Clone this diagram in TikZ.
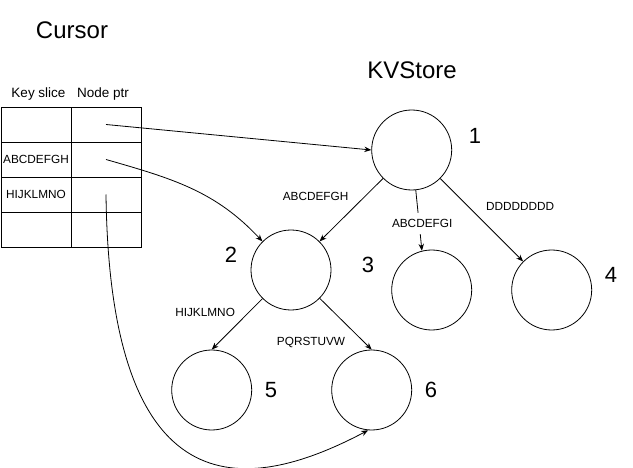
\documentclass[tikz,border=0pt]{standalone}
\usepackage{fontspec}
\setmainfont{Liberation Sans}
\usetikzlibrary{arrows.meta}

\begin{document}
\begin{tikzpicture}[x=1pt,y=-1pt,line width=0.8pt,
        >={Stealth[length=7pt,width=5.5pt]},
        store/.style={draw,circle,minimum size=80pt,inner sep=0pt},
        cell/.style={draw,minimum width=70pt,minimum height=35pt,inner sep=0pt,font=\fontsize{11.8}{14}\selectfont},
        num/.style={font=\fontsize{22}{26}\selectfont},
        slice/.style={font=\fontsize{11.8}{14}\selectfont}]
        \useasboundingbox (0,0) rectangle (633,468);

        % titles
        \node at (72,30) (cursor) {\fontsize{24}{28}\selectfont Cursor};
        \node at (412,70) (kvstore) {\fontsize{24}{28}\selectfont KVStore};

        % cursor table
        \node at (38.5,94) (keyhead) {\fontsize{13.5}{16}\selectfont Key slice};
        \node at (103,94) (ptrhead) {\fontsize{13.5}{16}\selectfont Node ptr};
        \foreach \r/\t in {1/,2/ABCDEFGH,3/HIJKLMNO,4/} {
            \node[cell] at (36,89.5+35*\r) (k\r) {\t};
            \node[cell] at (106,89.5+35*\r) (p\r) {};
        }

        % store nodes
        \node[store] at (211.7,390) (n5) {};
        \node[store] at (371.7,390) (n6) {};
        \node[store] at (291,270) (n2) {}
                edge[->] node[slice,pos=.28,left=9.6pt] {HIJKLMNO} (n5.north)
                edge[->] node[slice,pos=.855,left=15.3pt] {PQRSTUVW} (n6.north);
        \node[store] at (431.7,290) (n3) {};
        \node[store] at (551.7,290) (n4) {};
        \node[store] at (411.7,150) (n1) {}
                edge[->] node[slice,pos=.29,left=12.5pt] {ABCDEFGH} (n2.45)
                edge[->] node[slice,pos=.55,fill=white,inner sep=6pt,xshift=3pt] {ABCDEFGI} (n3.104)
                edge[->] node[slice,pos=.342,right=13.7pt] {DDDDDDDD} (n4.135);

        \node[num] at (475,135.5) (l1) {1};
        \node[num] at (231,255) (l2) {2};
        \node[num] at (368,265) (l3) {3};
        \node[num] at (611,275) (l4) {4};
        \node[num] at (271,390) (l5) {5};
        \node[num] at (431,390) (l6) {6};

        % pointers
        \draw[->] (p1.center) -- (n1.west);
        \draw[->] (p2.center) to[out=-16,in=133] (n2.135);
        \draw[->] (p3.center) .. controls (110,520) and (255,490) .. (n6.-95);
\end{tikzpicture}
\end{document}
